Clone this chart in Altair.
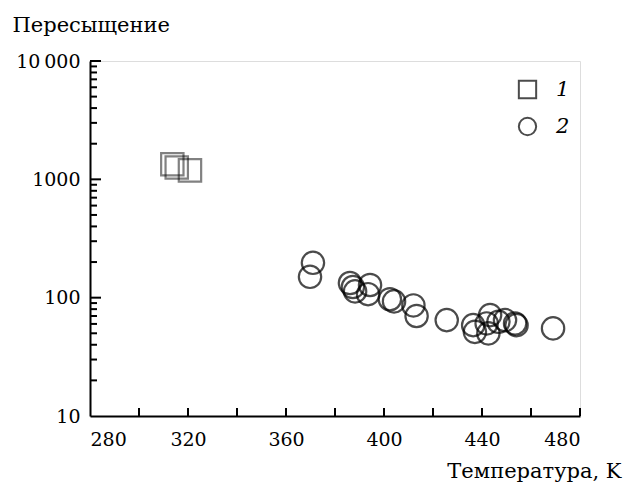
import altair as alt
import pandas as pd

# Series 1: squares
sq_temp = [313.6, 315.4, 320.8]
sq_super = [1340, 1260, 1190]

# Series 2: circles
ci_temp = [371.0, 369.8, 386.1, 387.3, 388.2, 394.3, 393.5, 402.4, 404.1, 412.0,
           413.3, 425.6, 436.4, 437.1, 443.3, 442.6, 441.9, 446.7, 449.4, 453.5,
           454.1, 469.0]
ci_super = [197, 150, 133, 123, 113, 128, 107, 97, 93, 86,
            70, 64.6, 58.6, 51.4, 71.2, 49.9, 60.6, 62.5, 64.6, 60.6,
            58.6, 55]

x_labels = [280, 320, 360, 400, 440, 480]
x_ticks = [300, 320, 340, 360, 380, 400, 420, 440, 460, 480]
y_labels = [10, 100, 1000, 10000]
y_major = [100, 1000, 10000]
y_minor = [m * d for d in (10, 100, 1000) for m in range(2, 10)]

FONT = "DejaVu Serif"
FS_LABEL = 19
FS_TITLE = 21

df = pd.DataFrame({
    "T": sq_temp + ci_temp,
    "S": sq_super + ci_super,
    "series": ["1"] * len(sq_temp) + ["2"] * len(ci_temp),
})

xscale = alt.Scale(domain=[280, 480], nice=False, zero=False)
yscale = alt.Scale(type="log", domain=[10, 10000], nice=False)

points = alt.Chart(df).mark_point(filled=False, color="black", strokeWidth=2.2, size=500).encode(
    x=alt.X("T:Q", scale=xscale,
            axis=alt.Axis(values=x_labels, ticks=False, grid=False, domainColor="black",
                          domainWidth=2, labelFont=FONT, labelFontSize=FS_LABEL,
                          labelColor="black", labelPadding=14, format="d",
                          title="Температура, K", titleFont=FONT, titleFontSize=FS_TITLE,
                          titleFontWeight="normal", titleColor="black", titleAlign="right",
                          titleAnchor="end", titleX=531, titleY=61, titleBaseline="alphabetic")),
    y=alt.Y("S:Q", scale=yscale,
            axis=alt.Axis(values=y_labels, ticks=False, grid=False, domainColor="black",
                          domainWidth=2, labelFont=FONT, labelFontSize=FS_LABEL,
                          labelColor="black", labelPadding=10,
                          labelExpr="datum.value == 10000 ? '10\u2009000' : format(datum.value, 'd')",
                          title="Пересыщение", titleFont=FONT, titleFontSize=FS_TITLE,
                          titleFontWeight="normal", titleColor="black", titleAngle=0,
                          titleAlign="left", titleX=-78, titleY=-30, titleBaseline="alphabetic")),
    shape=alt.Shape("series:N", scale=alt.Scale(domain=["1", "2"], range=["square", "circle"]),
                    legend=alt.Legend(title=None, orient="none", legendX=427, legendY=18,
                                      symbolSize=300, symbolStrokeWidth=2,
                                      symbolStrokeColor="black", labelFont=FONT,
                                      labelFontSize=FS_TITLE, labelFontStyle="italic",
                                      labelColor="black", labelOffset=18, rowPadding=10,
                                      padding=0)),
    strokeOpacity=alt.StrokeOpacity("series:N",
                                    scale=alt.Scale(domain=["1", "2"], range=[0.7, 1.0]),
                                    legend=None),
)

# Inward tick marks
xt = alt.Chart(pd.DataFrame({"v": x_ticks})).mark_rule(color="black", strokeWidth=2).encode(
    x=alt.X("v:Q", scale=xscale), y=alt.value(355), y2=alt.value(347))
ymaj = alt.Chart(pd.DataFrame({"v": y_major})).mark_rule(color="black", strokeWidth=2).encode(
    y=alt.Y("v:Q", scale=yscale), x=alt.value(0), x2=alt.value(11))
ymin = alt.Chart(pd.DataFrame({"v": y_minor})).mark_rule(color="black", strokeWidth=2).encode(
    y=alt.Y("v:Q", scale=yscale), x=alt.value(0), x2=alt.value(7))

chart = alt.layer(points, xt, ymaj, ymin).properties(
    width=490, height=355,
    autosize=alt.AutoSizeParams(type="none"),
    padding={"left": 90, "top": 61, "right": 48, "bottom": 68},
).configure_view(stroke=None).configure(background="white")

chart.save("out.html", embed_options={"renderer": "svg", "actions": False})
